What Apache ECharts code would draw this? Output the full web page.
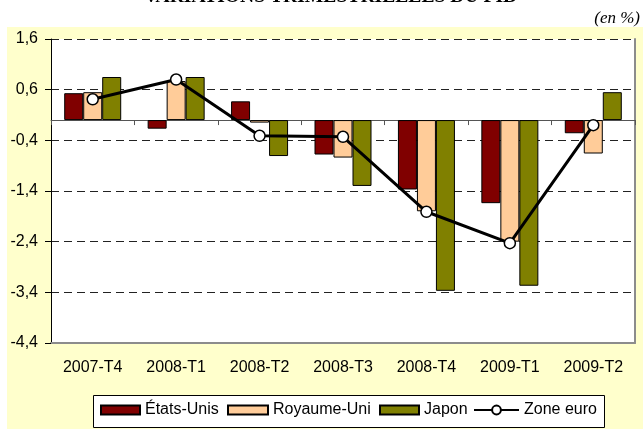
<!DOCTYPE html>
<html>
<head>
<meta charset="utf-8">
<script src="https://cdn.jsdelivr.net/npm/echarts@6/dist/echarts.min.js"></script>
<style>
  html, body { margin: 0; padding: 0; background: #ffffff; }
  #chart { width: 643px; height: 429px; }
</style>
</head>
<body>
<div id="chart"></div>
<script>
// Quarterly GDP change, in %
const categories = ['2007-T4', '2008-T1', '2008-T2', '2008-T3', '2008-T4', '2009-T1', '2009-T2'];
const etatsUnis  = [0.53, -0.17, 0.37, -0.68, -1.37, -1.64, -0.26];
const royaumeUni = [0.55, 0.77, -0.05, -0.74, -1.80, -2.40, -0.66];
const japon      = [0.85, 0.85, -0.71, -1.30, -3.37, -3.27, 0.55];
const zoneEuro   = [0.41, 0.80, -0.31, -0.33, -1.81, -2.43, -0.10];
const seriesNames = ['États-Unis', 'Royaume-Uni', 'Japon', 'Zone euro'];
const yMin = -4.4, yMax = 1.6, yStep = 1;

const SANS = '"Liberation Sans", Arial, sans-serif';
const SERIF = '"Liberation Serif", "Times New Roman", serif';
const fmt = v => (Math.round(v * 10) / 10).toFixed(1).replace('.', ',');

const chart = echarts.init(document.getElementById('chart'), null, { renderer: 'canvas' });

// one legend block per entry so each swatch sits where it should
const legendSlots = [
  { left: 100, itemWidth: 39, itemHeight: 9, icon: 'rect' },
  { left: 227, itemWidth: 40, itemHeight: 9, icon: 'rect' },
  { left: 379, itemWidth: 39, itemHeight: 9, icon: 'rect' },
  { left: 473, itemWidth: 45, itemHeight: 11, icon: null }
];
const legends = seriesNames.map((name, i) => {
  const slot = legendSlots[i];
  const item = slot.icon ? { name: name, icon: slot.icon } : { name: name };
  return {
    data: [item],
    left: slot.left,
    top: 402,
    padding: 0,
    itemWidth: slot.itemWidth,
    itemHeight: slot.itemHeight,
    selectedMode: false,
    textStyle: { fontFamily: SANS, fontSize: 16, color: '#000' }
  };
});

const option = {
  animation: false,
  backgroundColor: '#ffffff',
  graphic: [
    { type: 'rect', z: -10, silent: true,
      shape: { x: 7, y: 27, width: 636, height: 402 },
      style: { fill: '#FFFFCC' } },
    { type: 'rect', z: -5, silent: true,
      shape: { x: 93.5, y: 395.5, width: 511, height: 32 },
      style: { fill: '#ffffff', stroke: '#000', lineWidth: 1 } },
    { type: 'text', silent: true, x: 330, y: -3,
      style: { text: 'VARIATIONS TRIMESTRIELLES DU PIB', fontFamily: SERIF, fontWeight: 'bold',
               fontSize: 19.6, fill: '#000', align: 'center', verticalAlign: 'middle' } },
    { type: 'text', silent: true, x: 640, y: 19,
      style: { text: '(en %)', fontFamily: SERIF, fontStyle: 'italic',
               fontSize: 17, fill: '#000', align: 'right', verticalAlign: 'middle' } }
  ],
  legend: legends,
  grid: {
    left: 51, right: 8, top: 39, bottom: 86,
    show: true, backgroundColor: '#ffffff', borderWidth: 0
  },
  xAxis: [
    { // bottom frame edge carrying the quarter labels
      type: 'category', data: categories, position: 'bottom',
      axisLine: { onZero: false, lineStyle: { color: '#8c8c8c', width: 2 } },
      axisTick: { show: false },
      axisLabel: { fontFamily: SANS, fontSize: 16, color: '#000', margin: 17 },
      splitLine: { show: false }
    },
    { // zero line with ticks between quarters
      type: 'category', data: categories, position: 'bottom',
      axisLine: { onZero: true, lineStyle: { color: '#555', width: 1 } },
      axisTick: { show: true, length: 5, lineStyle: { color: '#555' } },
      axisLabel: { show: false },
      splitLine: { show: false }
    }
  ],
  yAxis: [
    {
      type: 'value', min: yMin, max: yMax, interval: yStep,
      axisLine: { show: true, onZero: false, lineStyle: { color: '#000', width: 1 } },
      axisTick: { show: true, length: 6, lineStyle: { color: '#000' } },
      axisLabel: { fontFamily: SANS, fontSize: 16, color: '#000', margin: 13, formatter: fmt },
      splitLine: { show: true, lineStyle: { color: '#222', width: 1, type: [8, 5] } }
    },
    { // right frame edge
      type: 'value', min: yMin, max: yMax, interval: yStep, position: 'right',
      axisLine: { show: true, onZero: false, lineStyle: { color: '#8c8c8c', width: 2 } },
      axisTick: { show: false }, axisLabel: { show: false }, splitLine: { show: false }
    }
  ],
  series: [
    { name: seriesNames[0], type: 'bar', data: etatsUnis, barWidth: 19, barGap: '0%',
      itemStyle: { color: '#800000', borderColor: '#000', borderWidth: 1 } },
    { name: seriesNames[1], type: 'bar', data: royaumeUni, barWidth: 19, barGap: '0%',
      itemStyle: { color: '#FFCC99', borderColor: '#000', borderWidth: 1 } },
    { name: seriesNames[2], type: 'bar', data: japon, barWidth: 19, barGap: '0%',
      itemStyle: { color: '#808000', borderColor: '#000', borderWidth: 1 } },
    { name: seriesNames[3], type: 'line', data: zoneEuro, z: 5,
      symbol: 'circle', symbolSize: 11, showAllSymbol: true,
      lineStyle: { color: '#000', width: 3 },
      itemStyle: { color: '#ffffff', borderColor: '#000', borderWidth: 1.5 } }
  ]
};

chart.setOption(option);
</script>
</body>
</html>
